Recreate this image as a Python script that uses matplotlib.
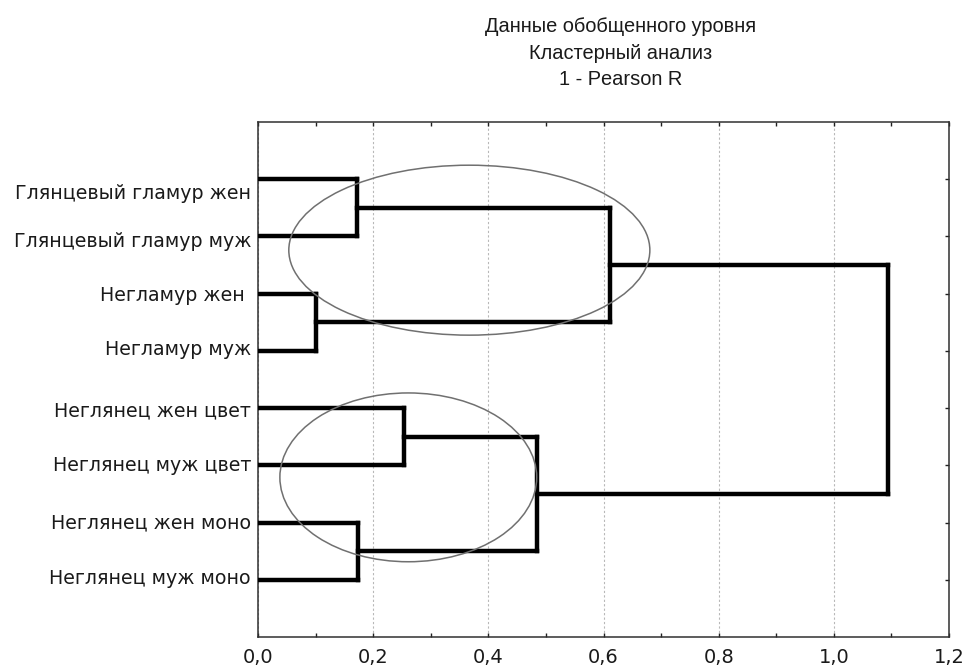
import matplotlib
matplotlib.use('Agg')
import matplotlib.pyplot as plt
import matplotlib.transforms as mtransforms
from matplotlib.patches import Ellipse
from matplotlib.ticker import MultipleLocator, FuncFormatter

# листья дендрограммы (сверху вниз)
leaves = [
    'Глянцевый гламур жен',
    'Глянцевый гламур муж',
    'Негламур жен ',
    'Негламур муж',
    'Неглянец жен цвет',
    'Неглянец муж цвет',
    'Неглянец жен моно',
    'Неглянец муж моно',
]

# объединения: (узел1, узел2, расстояние); узлы 0..7 - листья, 8.. - новые кластеры
merge_a = [2, 0, 6, 4, 11, 9, 13]
merge_b = [3, 1, 7, 5, 10, 8, 12]
merge_h = [0.100, 0.172, 0.174, 0.254, 0.485, 0.611, 1.094]

# эллипсы: центр x, центр y, ширина, высота (в единицах данных)
ell_x = [0.367, 0.261]
ell_y = [2.24, 6.21]
ell_w = [0.627, 0.446]
ell_h = [2.97, 2.95]

title_lines = ['Данные обобщенного уровня', 'Кластерный анализ', '1 - Pearson R']

# сдвиг подписей по вертикали, px (в оригинале первая подпись ниже линии)
label_dy = [-12, -3, 0, 3, -1, 2, 2, 3]

fig = plt.figure(figsize=(9.65, 6.68), dpi=100)
ax = fig.add_axes([258/965, 31/668, (949-258)/965, (637-122)/668])

node_y = [i + 1 for i in range(len(leaves))]
node_x = [0.0] * len(leaves)
for a, b, h in zip(merge_a, merge_b, merge_h):
    for n in (a, b):
        ax.plot([node_x[n], h], [node_y[n], node_y[n]], color='black', lw=3.2,
                solid_capstyle='projecting', solid_joinstyle='miter', zorder=3)
    ax.plot([h, h], [node_y[a], node_y[b]], color='black', lw=3.2,
            solid_capstyle='projecting', zorder=3)
    node_y.append((node_y[a] + node_y[b]) / 2)
    node_x.append(h)

for cx, cy, w, h in zip(ell_x, ell_y, ell_w, ell_h):
    ax.add_patch(Ellipse((cx, cy), w, h, fill=False, edgecolor='#707070', lw=1.1, zorder=4))

ax.set_xlim(0, 1.2)
ax.set_ylim(len(leaves) + 1, 0)

ax.xaxis.set_major_locator(MultipleLocator(0.2))
ax.xaxis.set_minor_locator(MultipleLocator(0.1))
ax.xaxis.set_major_formatter(FuncFormatter(lambda v, p: f'{v:.1f}'.replace('.', ',')))
ax.set_yticks(range(1, len(leaves) + 1))
ax.set_yticklabels(leaves)

ax.tick_params(axis='both', which='both', direction='in', length=3, width=1,
               color='#202020', top=True, right=True)
ax.tick_params(axis='x', which='major', labelsize=14, pad=8)
ax.tick_params(axis='y', which='major', labelsize=13.7, pad=5)
for lbl in ax.get_xticklabels() + ax.get_yticklabels():
    lbl.set_fontfamily('DejaVu Sans')
    lbl.set_color('#1a1a1a')
for lbl, dy in zip(ax.get_yticklabels(), label_dy):
    lbl.set_transform(lbl.get_transform() + mtransforms.Affine2D().translate(0, dy))

ax.grid(axis='x', which='major', linestyle=(0, (2, 2)), color='#b8b8b8', lw=0.8)
for s in ax.spines.values():
    s.set_color('#303030')
    s.set_linewidth(1.1)

for i, t in enumerate(title_lines):
    fig.text(621/965, 1 - (32 + 26.7*i)/668, t, ha='center', va='baseline',
             fontsize=14.4, family='Liberation Sans', color='#1a1a1a')

fig.savefig('out.png', dpi=100)
